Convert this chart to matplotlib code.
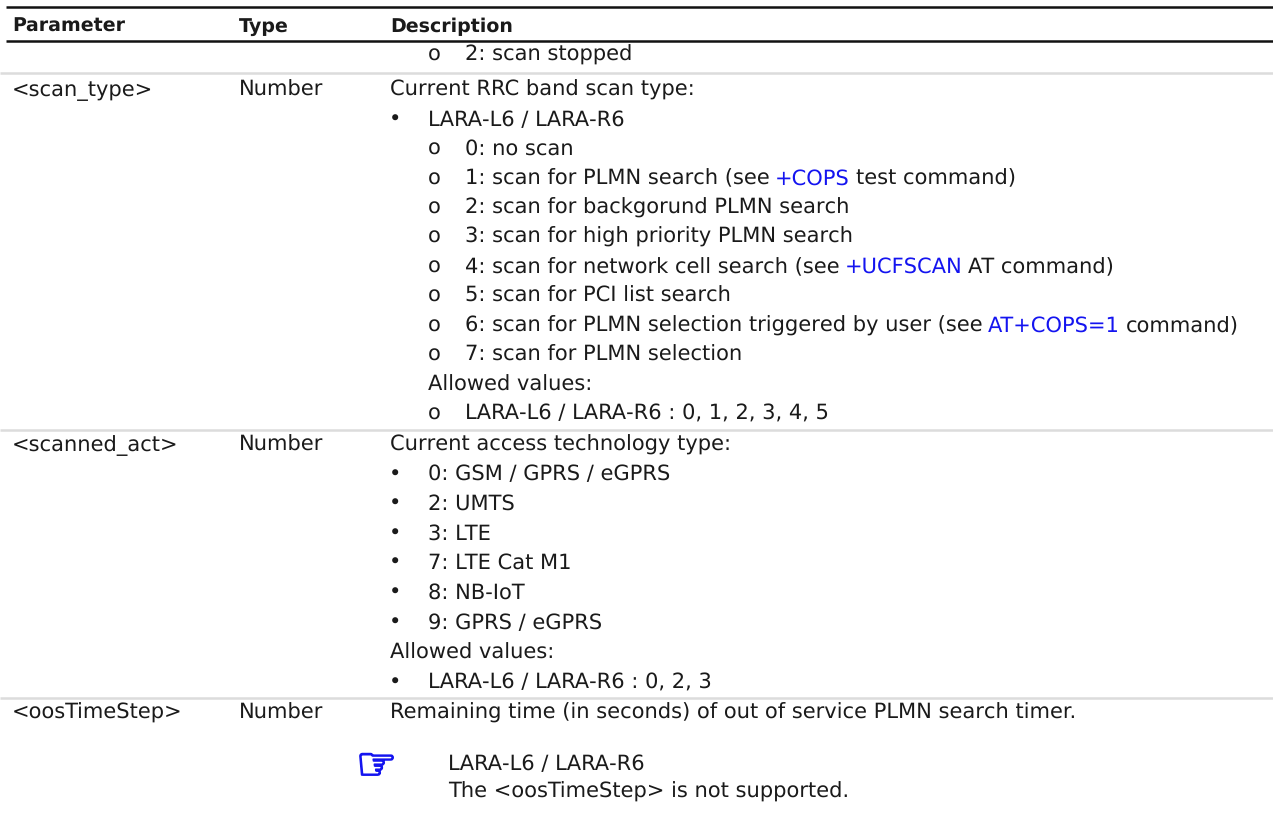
import matplotlib
matplotlib.use("Agg")
import matplotlib.pyplot as plt
import matplotlib.patheffects as pe

plt.rcParams["text.hinting"] = "no_hinting"
plt.rcParams["text.hinting_factor"] = 1

FONT = ["DejaVu Sans"]
SIZE = 14.8
HEAD_SIZE = 13.4
INK = "#1a1a1a"
BLUE = "#1414f0"
GREY = "#dcdcdc"
BASE = 7.0

headers = ["Parameter", "Type", "Description"]
col_x = [12, 239, 390]
parameters = [("<scan_type>", 89), ("<scanned_act>", 444), ("<oosTimeStep>", 712)]
types = ["Number", "Number", "Number"]

# (indent column, marker, [(text, is_link), ...], y centre)
desc_lines = [
    (2, "o", [("2: scan stopped", 0)], 54),
    (0, "", [("Current RRC band scan type:", 0)], 89),
    (1, "\u2022", [("LARA-L6 / LARA-R6", 0)], 119),
    (2, "o", [("0: no scan", 0)], 148),
    (2, "o", [("1: scan for PLMN search (see ", 0), ("+COPS", 1), (" test command)", 0)], 177.5),
    (2, "o", [("2: scan for backgorund PLMN search", 0)], 207),
    (2, "o", [("3: scan for high priority PLMN search", 0)], 236),
    (2, "o", [("4: scan for network cell search (see ", 0), ("+UCFSCAN", 1), (" AT command)", 0)], 266),
    (2, "o", [("5: scan for PCI list search", 0)], 295),
    (2, "o", [("6: scan for PLMN selection triggered by user (see ", 0), ("AT+COPS=1", 1), (" command)", 0)], 325),
    (2, "o", [("7: scan for PLMN selection", 0)], 354),
    (1, "", [("Allowed values:", 0)], 384),
    (2, "o", [("LARA-L6 / LARA-R6 : 0, 1, 2, 3, 4, 5", 0)], 413),
    (0, "", [("Current access technology type:", 0)], 444),
    (1, "\u2022", [("0: GSM / GPRS / eGPRS", 0)], 473.5),
    (1, "\u2022", [("2: UMTS", 0)], 503),
    (1, "\u2022", [("3: LTE", 0)], 533),
    (1, "\u2022", [("7: LTE Cat M1", 0)], 562),
    (1, "\u2022", [("8: NB-IoT", 0)], 592),
    (1, "\u2022", [("9: GPRS / eGPRS", 0)], 622),
    (0, "", [("Allowed values:", 0)], 652),
    (1, "\u2022", [("LARA-L6 / LARA-R6 : 0, 2, 3", 0)], 682),
    (0, "", [("Remaining time (in seconds) of out of service PLMN search timer.", 0)], 712),
    (3, "", [("LARA-L6 / LARA-R6", 0)], 763),
    (3, "", [("The <oosTimeStep> is not supported.", 0)], 791),
]
black_rules = [7.3, 41]
grey_rules = [73, 430, 698]
note_icon = ("\u261e", 356, 767)

marker_x = {1: 389, 2: 428}
text_x = {0: 390, 1: 428, 2: 465, 3: 448}

fig = plt.figure(figsize=(12.73, 8.25), dpi=100)
ax = fig.add_axes([0, 0, 1, 1])
ax.set_xlim(0, 1273)
ax.set_ylim(825, 0)
ax.axis("off")

for y in black_rules:
    ax.plot([6, 1273], [y, y], color="#111111", lw=1.8, solid_capstyle="butt")
for y in grey_rules:
    ax.plot([0, 1273], [y, y], color=GREY, lw=1.8, solid_capstyle="butt")

def put(x, y, s, color=INK, weight="normal", size=SIZE):
    return ax.text(x, y + BASE, s, family=FONT, fontsize=size, color=color, weight=weight,
                   va="baseline", ha="left")

for x, h in zip(col_x, headers):
    put(x, 25, h, weight="bold", size=HEAD_SIZE)
for (name, y), t in zip(parameters, types):
    put(col_x[0], y, name)
    put(col_x[1], y, t)

fig.canvas.draw()
r = fig.canvas.get_renderer()
for col, mark, parts, y in desc_lines:
    if mark:
        put(marker_x[col], y, mark)
    x = text_x[col]
    for s, link in parts:
        lead = len(s) - len(s.lstrip())
        trail = len(s) - len(s.rstrip())
        sp = 5.5
        x += lead * sp
        t = put(x, y, s.strip(), color=BLUE if link else INK)
        x = ax.transData.inverted().transform(t.get_window_extent(r))[1][0] + trail * sp

ax.text(note_icon[1], note_icon[2], note_icon[0], family="DejaVu Sans", fontsize=33,
        color=BLUE, va="center", ha="left",
        path_effects=[pe.withStroke(linewidth=1.2, foreground=BLUE)])
fig.savefig("out.png", dpi=100)
